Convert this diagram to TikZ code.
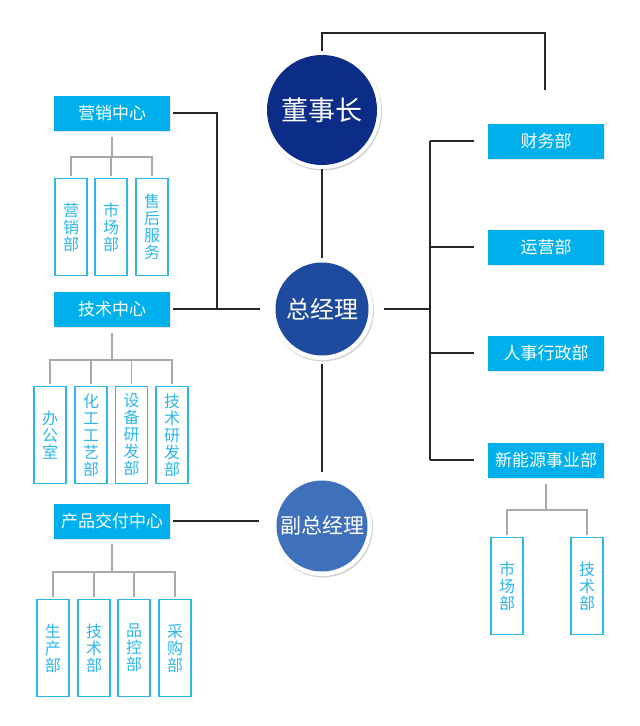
\documentclass[tikz,border=0pt]{standalone}
\usepackage{fontspec}
\setmainfont{Noto Sans CJK SC}
\usetikzlibrary{shadows}
\definecolor{dszblue}{HTML}{0B2C87}
\definecolor{zjlblue}{HTML}{1E4B9D}
\definecolor{fzjlblue}{HTML}{3F70BC}
\definecolor{headcyan}{HTML}{00B0EC}
\definecolor{subcyan}{HTML}{2CB6EA}
\definecolor{treegray}{HTML}{A8A8AA}
\tikzset{
  ring/.style={circle, fill=white, inner sep=0pt,
    drop shadow={opacity=0.35, shadow xshift=1pt, shadow yshift=-1.5pt}},
  core/.style={circle, inner sep=0pt, text=white},
  head/.style={fill=headcyan, text=white, minimum width=116pt, minimum height=35pt,
    inner sep=0pt, font=\fontsize{17}{20}\selectfont,
    drop shadow={opacity=0.2, shadow xshift=1pt, shadow yshift=-1pt}},
  sub/.style={draw=subcyan, line width=1.3pt, fill=white, text=subcyan,
    minimum width=32pt, minimum height=97pt, inner sep=0pt, align=center,
    font=\fontsize{16}{17}\selectfont},
  link/.style={line width=1.2pt, black!85},
  tree/.style={line width=1.6pt, treegray}
}
\begin{document}
\begin{tikzpicture}[x=1pt,y=-1pt]
\useasboundingbox (0,0) rectangle (640,726);

\node[ring, minimum size=118pt] (dsz) at (322,110) {};
\node[core, fill=dszblue, minimum size=110pt, font=\fontsize{27}{30}\selectfont] (dszc) at (dsz) {董事长};
\node[ring, minimum size=102pt] (zjl) at (322,309) {};
\node[core, fill=zjlblue, minimum size=93pt, font=\fontsize{24}{27}\selectfont] (zjlc) at (zjl) {总经理};
\node[ring, minimum size=100pt] (fzjl) at (322,526) {};
\node[core, fill=fzjlblue, minimum size=91pt, font=\fontsize{21}{24}\selectfont] (fzjlc) at (fzjl) {副总经理};

\node[head] (yxzx) at (112,113) {营销中心};
\node[head] (jszx) at (112,309) {技术中心};
\node[head] (cpzx) at (112,521) {产品交付中心};
\node[head] (cwb) at (546,141) {财务部};
\node[head] (yyb) at (546,247) {运营部};
\node[head] (rsb) at (546,353) {人事行政部};
\node[head] (xny) at (546,460) {新能源事业部};

\node[sub] (yx1) at (71,227) {营\\销\\部};
\node[sub] (yx2) at (111,227) {市\\场\\部};
\node[sub] (yx3) at (152,227) {售\\后\\服\\务};

\node[sub] (js1) at (50,435) {办\\公\\室};
\node[sub] (js2) at (91,435) {化\\工\\工\\艺\\部};
\node[sub] (js3) at (131.5,435) {设\\备\\研\\发\\部};
\node[sub] (js4) at (172,435) {技\\术\\研\\发\\部};

\node[sub] (cp1) at (53,648) {生\\产\\部};
\node[sub] (cp2) at (94,648) {技\\术\\部};
\node[sub] (cp3) at (134,648) {品\\控\\部};
\node[sub] (cp4) at (175,648) {采\\购\\部};

\node[sub] (xn1) at (507,586) {市\\场\\部};
\node[sub] (xn2) at (587,586) {技\\术\\部};

\coordinate (topbend) at (322,33);
\coordinate (topend) at (545,90);
\draw[link] (dsz.north) -- (topbend) -| (topend);
\draw[link] (dsz.south) -- (zjl.north);
\draw[link, shorten <=4pt, shorten >=4pt] (zjl.south) -- (fzjl.north);

\coordinate (lbus) at (217,309);
\draw[link, shorten <=3pt] (yxzx.east) -| (lbus);
\draw[link, shorten <=3pt, shorten >=11pt] (jszx.east) -- (zjl.west);
\draw[link, shorten <=3pt] (cpzx.east) -- ([xshift=-13pt]cpzx.east -| fzjl.west) coordinate (fzend);

\coordinate (rbus) at (430,309);
\draw[link, shorten <=11pt] (zjl.east) -- (rbus);
\draw[link] (rbus |- cwb) -- (rbus |- xny);
\foreach \d in {cwb,yyb,rsb,xny}{
\draw[link, shorten >=14pt] (rbus |- \d) -- (\d.west);
}

\draw[tree] ([yshift=-6pt]yxzx.south) -- ++(0,20) coordinate (yxm);
\foreach \s in {yx1,yx2,yx3}{
\draw[tree, shorten >=2pt] (yxm) -| (\s.north);
}
\draw[tree] ([yshift=-6pt]jszx.south) -- ++(0,27) coordinate (jsm);
\foreach \s in {js1,js2,js3,js4}{
\draw[tree, shorten >=2pt] (jsm) -| (\s.north);
}
\draw[tree] ([yshift=-5pt]cpzx.south) -- ++(0,28) coordinate (cpm);
\foreach \s in {cp1,cp2,cp3,cp4}{
\draw[tree, shorten >=2pt] (cpm) -| (\s.north);
}
\draw[tree] ([yshift=-6pt]xny.south) -- ++(0,26) coordinate (xnm);
\foreach \s in {xn1,xn2}{
\draw[tree, shorten >=2pt] (xnm) -| (\s.north);
}
\end{tikzpicture}
\end{document}
